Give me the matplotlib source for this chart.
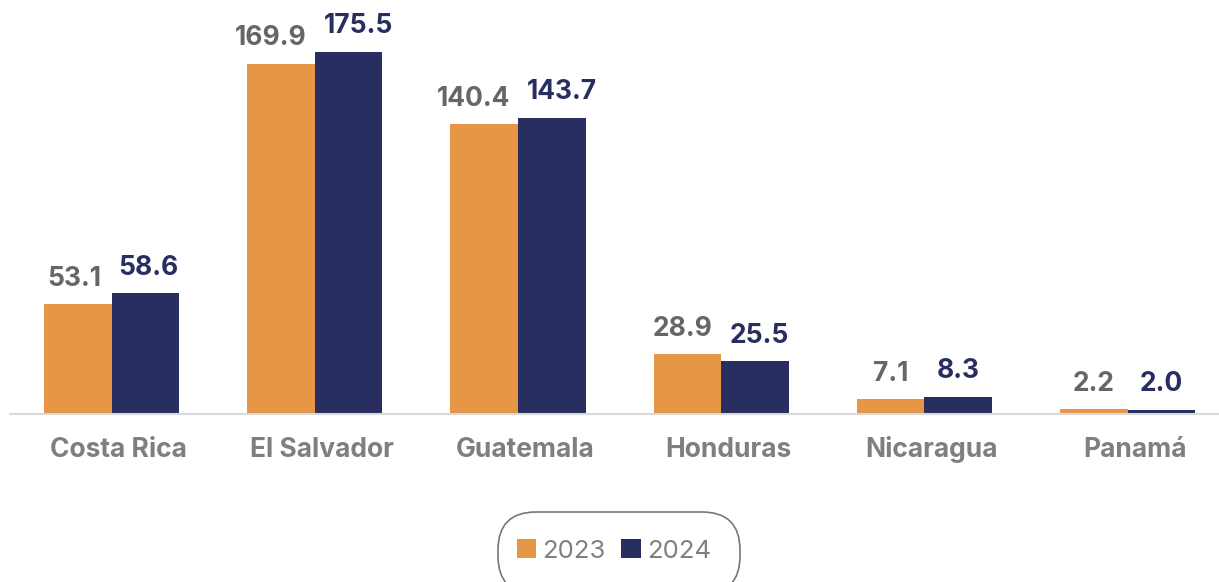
import numpy as np
import matplotlib.pyplot as plt
import matplotlib.transforms as mtransforms
from matplotlib.patches import FancyBboxPatch

countries = ["Costa Rica", "El Salvador", "Guatemala", "Honduras", "Nicaragua", "Panamá"]
values_2023 = [53.1, 169.9, 140.4, 28.9, 7.1, 2.2]
values_2024 = [58.6, 175.5, 143.7, 25.5, 8.3, 2.0]

orange = "#E69645"
navy = "#282E60"

plt.rcParams["font.family"] = ["Inter", "DejaVu Sans"]

fig = plt.figure(figsize=(12.19, 5.82), dpi=100)
ax = fig.add_axes([10 / 1219, 168 / 582, 1209 / 1219, 414 / 582])

x = np.arange(len(countries))
w = 0.333
b1 = ax.bar(x - w / 2, values_2023, w, color=orange, label="2023")
b2 = ax.bar(x + w / 2, values_2024, w, color=navy, label="2024")

labels_a = []
labels_b = []
for rect, v in zip(b1, values_2023):
    labels_a.append(ax.annotate(f"{v:.1f}", (rect.get_x() + rect.get_width() / 2, v),
                                xytext=(0, 9), textcoords="offset points", ha="center", va="bottom",
                                fontsize=19, fontweight="bold", color="#666666"))
for rect, v in zip(b2, values_2024):
    labels_b.append(ax.annotate(f"{v:.1f}", (rect.get_x() + rect.get_width() / 2, v),
                                xytext=(0, 9), textcoords="offset points", ha="center", va="bottom",
                                fontsize=19, fontweight="bold", color=navy))

ax.set_xlim(-0.5, 5.45)
ax.set_ylim(0, 200.7)
ax.set_xticks(x)
ax.set_xticklabels(countries, fontsize=19, fontweight="bold", color="#7F7F7F")
ax.tick_params(axis="x", length=0, pad=31)
ax.set_yticks([])
for s in ["top", "right", "left"]:
    ax.spines[s].set_visible(False)
ax.spines["bottom"].set_color("#D9D9D9")
ax.spines["bottom"].set_linewidth(1.5)

# category labels sit a little right of the group centre, on a common baseline
shift = mtransforms.ScaledTranslation(7 / 100, 0, fig.dpi_scale_trans)
for lbl in ax.get_xticklabels():
    lbl.set_transform(lbl.get_transform() + shift)
    lbl.set_va("baseline")

leg = fig.legend(loc="center", bbox_to_anchor=(614 / 1219, 1 - 551 / 582),
                 ncol=2, frameon=False, fontsize=18.5, handlelength=0.75, handleheight=0.75,
                 handletextpad=0.25, columnspacing=0.6, labelcolor="#808080")

# pill-shaped legend border, in pixel coordinates
pill = FancyBboxPatch((498, -12), 242, 82, boxstyle="round,pad=0,rounding_size=38",
                      transform=None, fill=False, edgecolor="#777777", linewidth=1.2)
fig.patches.append(pill)

# push apart value labels of a pair that would sit too close
fig.canvas.draw()
renderer = fig.canvas.get_renderer()
min_gap = 17
for la, lb in zip(labels_a, labels_b):
    ea = la.get_window_extent(renderer)
    eb = lb.get_window_extent(renderer)
    gap = eb.x0 - ea.x1
    if gap < min_gap:
        d = (min_gap - gap) / 2 * 72 / fig.dpi
        la.xyann = (la.xyann[0] - d, la.xyann[1])
        lb.xyann = (lb.xyann[0] + d, lb.xyann[1])

fig.savefig("out.png", dpi=100)
